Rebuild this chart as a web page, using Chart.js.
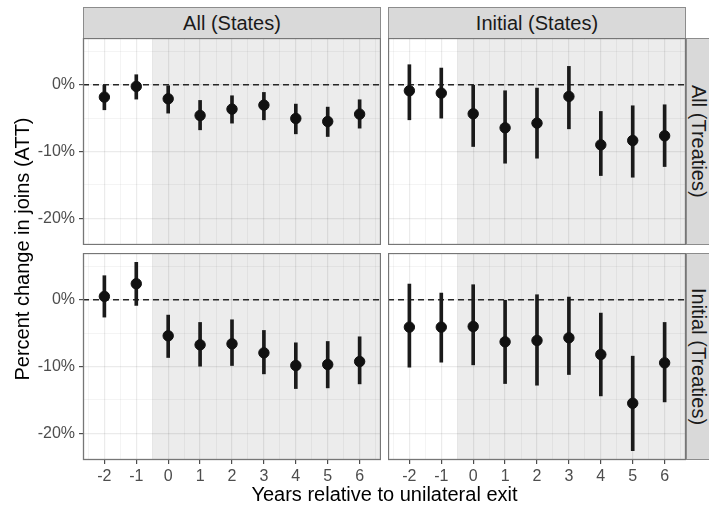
<!DOCTYPE html>
<html>
<head>
<meta charset="utf-8">
<script src="https://cdn.jsdelivr.net/npm/chart.js@4/dist/chart.umd.min.js"></script>
<style>
  body { margin: 0; background: #fff; }
  #fig { position: relative; width: 709px; height: 508px; overflow: hidden;
         font-family: "Liberation Sans", Arial, sans-serif; }
  #fig canvas, .strip, .axis-title { position: absolute; }
  .strip { background: #d9d9d9; border: 1px solid #8c8c8c; box-sizing: border-box;
           color: #1a1a1a; font-size: 20px; display: flex; align-items: center;
           justify-content: center; white-space: nowrap; }
  .strip.right span { writing-mode: vertical-rl; }
  .axis-title { color: #000; font-size: 20px; line-height: 22px; text-align: center;
                white-space: nowrap; }
</style>
</head>
<body>
<div id="fig">
  <div class="strip" style="left:83px; top:7px; width:298px; height:32px;">All (States)</div>
  <div class="strip" style="left:388px; top:7px; width:298px; height:32px;">Initial (States)</div>
  <div class="strip right" style="left:686px; top:38px; width:24px; height:207px;"><span>All (Treaties)</span></div>
  <div class="strip right" style="left:686px; top:253px; width:24px; height:207px;"><span>Initial (Treaties)</span></div>

  <canvas id="allAll" width="381" height="207" style="left:0; top:38px;"></canvas>
  <canvas id="allInit" width="298" height="207" style="left:388px; top:38px;"></canvas>
  <canvas id="initAll" width="381" height="237" style="left:0; top:253px;"></canvas>
  <canvas id="initInit" width="298" height="237" style="left:388px; top:253px;"></canvas>

  <div class="axis-title" style="left:-178px; top:238px; width:400px; transform:rotate(-90deg);">Percent change in joins (ATT)</div>
  <div class="axis-title" style="left:83px; top:483px; width:603px;">Years relative to unilateral exit</div>
</div>

<script>
// Event-study estimates (percent) with confidence bounds
const years = [-2, -1, 0, 1, 2, 3, 4, 5, 6];

// All treaties, all states
const allAllEst  = [-1.85, -0.25, -2.1, -4.6, -3.65, -3.05, -5.05, -5.5, -4.4];
const allAllLow  = [-3.75, -2.15, -4.25, -6.75, -5.75, -5.25, -7.35, -7.75, -6.5];
const allAllHigh = [0, 1.5, -0.15, -2.35, -1.65, -1.15, -2.9, -3.35, -2.25];

// All treaties, initial states
const allInitEst  = [-0.9, -1.25, -4.35, -6.45, -5.75, -1.75, -9.0, -8.35, -7.65];
const allInitLow  = [-5.25, -5.0, -9.25, -11.75, -11.0, -6.6, -13.6, -13.85, -12.25];
const allInitHigh = [3.0, 2.5, 0, -0.9, -0.5, 2.75, -4.0, -3.15, -3.0];

// Initial treaties, all states
const initAllEst  = [0.5, 2.4, -5.4, -6.75, -6.6, -7.95, -9.85, -9.7, -9.25];
const initAllLow  = [-2.6, -0.85, -8.65, -9.95, -9.85, -11.1, -13.3, -13.2, -12.6];
const initAllHigh = [3.6, 5.6, -2.3, -3.4, -3.0, -4.6, -6.45, -6.25, -5.55];

// Initial treaties, initial states
const initInitEst  = [-4.1, -4.1, -4.0, -6.3, -6.1, -5.7, -8.2, -15.5, -9.45];
const initInitLow  = [-10.1, -9.35, -9.75, -12.55, -12.8, -11.2, -14.4, -22.6, -15.3];
const initInitHigh = [2.35, 1.0, 2.25, 0, 0.75, 0.4, -2.0, -8.45, -3.4];

const yTicks = [-20, -10, 0];
const yGrid = [-20, -15, -10, -5, 0, 5];
const xGrid = [-2.5, -2, -1.5, -1, -0.5, 0, 0.5, 1, 1.5, 2, 2.5, 3, 3.5, 4, 4.5, 5, 5.5, 6, 6.5];
const xMin = -2.67, xMax = 6.67;
const yMin = -24, yMax = 7;
const shadeFrom = -0.5;   // post-exit period starts here

const gridColor = 'rgba(0, 0, 0, 0.08)';
const tickText = '#4d4d4d';

// grey band behind the post-exit years
const shadePlugin = {
    id: 'shade',
    beforeDraw(chart) {
        const { ctx, chartArea, scales } = chart;
        const x0 = scales.x.getPixelForValue(shadeFrom);
        ctx.save();
        ctx.fillStyle = '#ececec';
        ctx.fillRect(x0, chartArea.top, chartArea.right - x0, chartArea.bottom - chartArea.top);
        ctx.restore();
    }
};

// panel frame
const framePlugin = {
    id: 'frame',
    afterDraw(chart) {
        const { ctx, chartArea } = chart;
        ctx.save();
        ctx.strokeStyle = '#767676';
        ctx.lineWidth = 1.3;
        ctx.strokeRect(chartArea.left + 0.5, chartArea.top + 0.5,
            chartArea.right - chartArea.left - 1, chartArea.bottom - chartArea.top - 1);
        ctx.restore();
    }
};

function makePanel(id, est, low, high, showY, showX) {
    const ctx = document.getElementById(id);
    return new Chart(ctx, {
        type: 'bar',
        data: {
            datasets: [{
                // reference line at zero
                type: 'line',
                data: [{ x: xMin, y: 0 }, { x: xMax, y: 0 }],
                borderColor: '#262626',
                borderWidth: 1.4,
                borderDash: [6, 4],
                pointRadius: 0,
                order: 3
            }, {
                // confidence intervals as thin floating bars
                type: 'bar',
                data: years.map((x, i) => ({ x: x, y: [low[i], high[i]] })),
                backgroundColor: '#1a1a1a',
                borderWidth: 0,
                barThickness: 3,
                order: 2
            }, {
                type: 'scatter',
                data: years.map((x, i) => ({ x: x, y: est[i] })),
                backgroundColor: '#111',
                borderColor: '#111',
                pointRadius: 5.2,
                order: 1
            }]
        },
        options: {
            responsive: false,
            animation: false,
            layout: { padding: 0, autoPadding: false },
            plugins: {
                legend: { display: false },
                tooltip: { enabled: false }
            },
            scales: {
                x: {
                    type: 'linear',
                    min: xMin,
                    max: xMax,
                    offset: false,
                    afterBuildTicks: scale => {
                        scale.ticks = xGrid.map(v => ({ value: v }));
                    },
                    afterFit: scale => {
                        scale.height = showX ? 30 : 0;
                        scale.paddingLeft = 0;
                        scale.paddingRight = 0;
                    },
                    border: { display: false },
                    grid: {
                        offset: false,
                        color: gridColor,
                        lineWidth: c => Number.isInteger(c.tick.value) ? 1.2 : 0.6,
                        drawTicks: showX,
                        tickLength: 4,
                        tickColor: c => Number.isInteger(c.tick.value) ? tickText : 'transparent'
                    },
                    ticks: {
                        display: showX,
                        padding: 3,
                        color: tickText,
                        font: { family: '"Liberation Sans", Arial, sans-serif', size: 16 },
                        maxRotation: 0,
                        autoSkip: false,
                        callback: v => years.includes(v) ? String(v) : ''
                    }
                },
                y: {
                    min: yMin,
                    max: yMax,
                    afterBuildTicks: scale => {
                        scale.ticks = yGrid.map(v => ({ value: v }));
                    },
                    afterFit: scale => {
                        scale.width = showY ? 83 : 0;
                        scale.paddingTop = 0;
                        scale.paddingBottom = 0;
                    },
                    border: { display: false },
                    grid: {
                        color: gridColor,
                        lineWidth: c => yTicks.includes(c.tick.value) ? 1.2 : 0.6,
                        drawTicks: showY,
                        tickLength: 4,
                        tickColor: c => yTicks.includes(c.tick.value) ? tickText : 'transparent'
                    },
                    ticks: {
                        display: showY,
                        padding: 4,
                        color: tickText,
                        font: { family: '"Liberation Sans", Arial, sans-serif', size: 16 },
                        autoSkip: false,
                        callback: v => yTicks.includes(v) ? v + '%' : ''
                    }
                }
            }
        },
        plugins: [shadePlugin, framePlugin]
    });
}

makePanel('allAll', allAllEst, allAllLow, allAllHigh, true, false);
makePanel('allInit', allInitEst, allInitLow, allInitHigh, false, false);
makePanel('initAll', initAllEst, initAllLow, initAllHigh, true, true);
makePanel('initInit', initInitEst, initInitLow, initInitHigh, false, true);
</script>
</body>
</html>
